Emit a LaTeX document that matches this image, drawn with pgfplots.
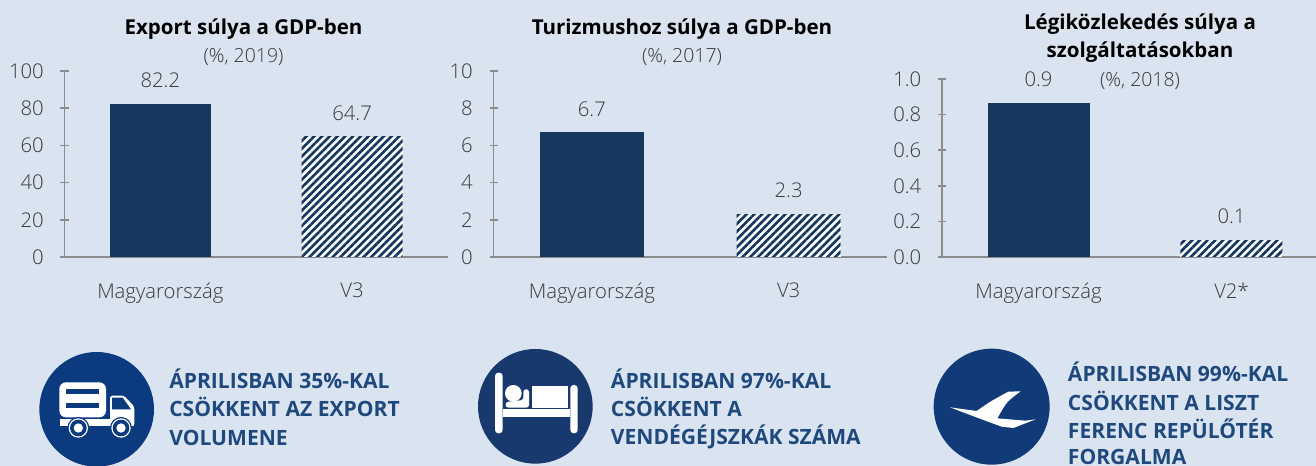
\documentclass[border=0pt]{standalone}
\usepackage{pgfplots}
\pgfplotsset{compat=1.18}
\usepackage{fontspec}
\setmainfont{Open Sans}
\newfontfamily\lightf[UprightFont=* Light]{Open Sans}
\usetikzlibrary{patterns.meta}
\definecolor{bg}{HTML}{DAE4F1}
\definecolor{navy}{HTML}{17375E}
\definecolor{axgrey}{HTML}{8C8C8C}
\definecolor{txt}{HTML}{383838}
\definecolor{head}{HTML}{1F497D}
\definecolor{cA}{HTML}{0B3A7E}
\definecolor{cB}{HTML}{17396E}
\definecolor{cC}{HTML}{103B78}
\pgfplotsset{
  panel/.style={
    scale only axis, axis lines=left, axis line style={-, axgrey, line width=1.2pt},
    ymin=0, xmin=-0.5, xtick={0,1},
    ytick style={axgrey, line width=1.2pt},
    major tick length=6pt,
    x tick style={draw=none},
    tick label style={font=\fontsize{15.2}{17}\selectfont\lightf, text=txt},
    /pgf/number format/assume math mode=true,
    yticklabel style={xshift=-9pt},
    xticklabel style={yshift=-10pt},
    ybar, bar shift=0pt, clip=false,
    nodes near coords, point meta=explicit symbolic,
    every node near coord/.style={font=\fontsize{15.2}{17}\selectfont\lightf, text=txt, yshift=8.5pt},
    anchor=south west,
  },
  solidbar/.style={fill=navy, draw=none},
  hatchbar/.style={fill=white, draw=none, postaction={pattern={Lines[angle=45,distance=4.1pt,line width=2pt]}, pattern color=navy}},
}
\begin{document}
\begin{tikzpicture}
\useasboundingbox (0,0) rectangle (987pt,349.5pt);
\fill[bg] (0,0) rectangle (987pt,349.5pt);

\begin{axis}[panel, at={(48.375pt,156.75pt)}, width=287.6pt, height=139.5pt,
  xmax=1.5, ymax=100, ytick={0,20,40,60,80,100}, bar width=75.75pt,
  xticklabels={Magyarország,V3}]
\addplot[solidbar] coordinates {(0,82.2)[82.2]};
\addplot[hatchbar] coordinates {(1,64.7)[64.7]};
\end{axis}

\begin{axis}[panel, at={(370.125pt,156.75pt)}, width=295.125pt, height=139.5pt,
  xmax=1.5, ymax=10, ytick={0,2,4,6,8,10}, bar width=78pt,
  xticklabels={Magyarország,V3}]
\addplot[solidbar] coordinates {(0,6.7)[6.7]};
\addplot[hatchbar] coordinates {(1,2.3)[2.3]};
\end{axis}

\begin{axis}[panel, at={(706.5pt,156.75pt)}, width=280.5pt, height=133.5pt,
  xmax=1.438, ymax=1, ytick={0,0.2,0.4,0.6,0.8,1}, yticklabels={0.0,0.2,0.4,0.6,0.8,1.0}, bar width=76.5pt,
  xticklabels={Magyarország,V2*}]
\addplot[solidbar] coordinates {(0,0.865)[0.9]};
\addplot[hatchbar] coordinates {(1,0.095)[0.1]};
\end{axis}

% titles
\begin{scope}[x=0.75pt,y=-0.75pt,yshift=349.5pt]
\tikzset{tt/.style={font=\fontsize{15.4}{17}\selectfont\bfseries, text=black, anchor=base, inner sep=0pt},
 st/.style={font=\fontsize{14.6}{17}\selectfont\lightf, text=txt, anchor=base, inner sep=0pt},
 hh/.style={font=\fontsize{15.8}{17}\selectfont\bfseries, text=head, anchor=base west, inner sep=0pt}}
\node[tt] at (243.5,35) {Export súlya a GDP-ben};
\node[st] at (243.5,63) {(\%, 2019)};
\node[tt] at (682,35) {Turizmushoz súlya a GDP-ben};
\node[st] at (682,63) {(\%, 2017)};
\node[tt] at (1140,30) {Légiközlekedés súlya a};
\node[tt] at (1140,58) {szolgáltatásokban};
\node[st] at (1140,86.5) {(\%, 2018)};
\node[hh] at (169,389) {ÁPRILISBAN 35\%-KAL};
\node[hh] at (169,417) {CSÖKKENT AZ EXPORT};
\node[hh] at (169,446) {VOLUMENE};
\node[hh] at (610.7,389) {ÁPRILISBAN 97\%-KAL};
\node[hh] at (610.7,417) {CSÖKKENT A};
\node[hh] at (610.7,445) {VENDÉGÉJSZKÁK SZÁMA};
\node[hh] at (1067.7,382) {ÁPRILISBAN 99\%-KAL};
\node[hh] at (1067.7,411) {CSÖKKENT A LISZT};
\node[hh] at (1067.7,439) {FERENC REPÜLŐTÉR};
\node[hh] at (1067.7,465) {FORGALMA};
\end{scope}

% truck icon (zoom coordinates: 3 units per pixel)
\begin{scope}[shift={(0pt,{(466-330)*0.75pt})},x=0.25pt,y=-0.25pt]
\fill[cA] (290,238) circle[radius=172];
\fill[white,rounded corners=5pt] (178,157) rectangle (318,262);
\fill[white] (180,266) rectangle (403,288);
\fill[white,rounded corners=2pt] (330,197) -- (372,197) -- (403,230) -- (403,288) -- (330,288) -- cycle;
\fill[cA] (198,176) rectangle (297,192);
\fill[cA] (198,218) rectangle (297,235);
\fill[cA] (336,203) -- (368,203) -- (393,238) -- (336,238) -- cycle;
\foreach \c in {235,363}{
 \fill[cA] (\c,294) circle[radius=33];
 \fill[white] (\c,294) circle[radius=29];
 \fill[cA] (\c,294) circle[radius=25];
 \fill[white] (\c,294) circle[radius=14];
}
\end{scope}

% bed icon
\begin{scope}[shift={(345pt,{(466-330)*0.75pt})},x=0.25pt,y=-0.25pt]
\fill[cB] (226,229) circle[radius=172];
\fill[white,rounded corners=2.5pt] (105,128) rectangle (128,310);
\fill[white,rounded corners=2.5pt] (331,165) rectangle (353,310);
\fill[white] (128,238) rectangle (331,262);
\fill[white] (160,190) circle[radius=25];
\fill[white] (216,168) rectangle (325,233);
\fill[white,rounded corners=2pt] (137,216) -- (190,210) -- (190,178) -- (207,178) -- (207,233) -- (137,233) -- cycle;
\end{scope}

% plane icon
\begin{scope}[shift={(675pt,{(466-330)*0.75pt})},x=0.25pt,y=-0.25pt]
\fill[cC] (275,230) circle[radius=174];
\fill[white] (150,232) -- (230,243) .. controls (270,215) .. (325,185) -- (362,184) .. controls (320,215) .. (292,265) -- (375,272) -- (407,268) -- (340,294) -- (305,290) .. controls (250,270) .. (150,232) -- cycle;
\end{scope}
\end{tikzpicture}
\end{document}
